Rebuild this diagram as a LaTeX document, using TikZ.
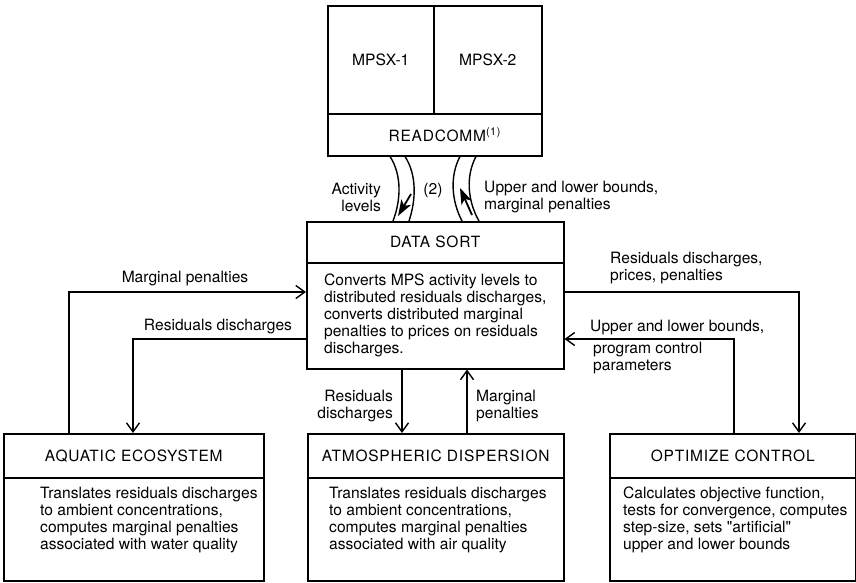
\documentclass[tikz,border=0pt]{standalone}
\usepackage{fontspec}
\setmainfont{TeX Gyre Heros}
\usetikzlibrary{arrows.meta,calc}
\begin{document}
\begin{tikzpicture}[x=1pt,y=-1pt,
  every node/.style={font=\fontsize{15.6}{17}\selectfont},
  box/.style={draw, line width=1.5pt, inner sep=0pt, anchor=north west},
  ttl/.style={font=\fontsize{15.5}{16}\selectfont\addfontfeature{LetterSpace=5}},
  txt/.style={anchor=north west, align=left, inner sep=0pt},
  lbl/.style={inner sep=0pt},
  arr/.style={line width=1.4pt, -{Straight Barb[length=9pt,width=13pt,line width=1.4pt]}},
  band/.style={line width=1.4pt},
  bandarrow/.style={line width=1.8pt, -{Stealth[length=16pt,width=11pt,inset=4pt]}}
]
\useasboundingbox (0,0) rectangle (856,582);

% top block
\node[box, minimum width=106pt, minimum height=108pt] (mpsx1) at (327,5) {MPSX-1};
\node[box, minimum width=108pt, minimum height=108pt] (mpsx2) at (433,5) {MPSX-2};
\node[box, ttl, minimum width=214pt, minimum height=42pt] (readcomm) at (327,113) {\hspace*{20pt}READCOMM\textsuperscript{(1)}};

% data sort
\node[box, ttl, minimum width=257pt, minimum height=41pt] (dstitle) at (306,221) {DATA SORT};
\node[box, minimum width=257pt, minimum height=106pt, align=left] (dsbody) at (306,262)
  {Converts MPS activity levels to\\distributed residuals discharges,\\converts distributed marginal\\penalties to prices on residuals\\discharges.};

% bottom boxes
\node[box, ttl, minimum width=260pt, minimum height=44pt] (aqtitle) at (3,433) {AQUATIC ECOSYSTEM};
\node[box, minimum width=260pt, minimum height=103pt] (aqbody) at (3,477) {};
\node[txt] (aqtext) at (40,487) {Translates residuals discharges\\to ambient concentrations,\\computes marginal penalties\\associated with water quality};

\node[box, ttl, minimum width=256pt, minimum height=44pt] (attitle) at (307,433) {ATMOSPHERIC DISPERSION};
\node[box, minimum width=256pt, minimum height=103pt] (atbody) at (307,477) {};
\node[txt] (attext) at (329,487) {Translates residuals discharges\\to ambient concentrations,\\computes marginal penalties\\associated with air quality};

\node[box, ttl, minimum width=246pt, minimum height=44pt] (optitle) at (609,433) {OPTIMIZE CONTROL};
\node[box, minimum width=246pt, minimum height=103pt] (opbody) at (609,477) {};
\node[txt] (optext) at (623,487) {Calculates objective function,\\tests for convergence, computes\\step-size, sets \textquotedbl artificial\textquotedbl\\upper and lower bounds};

% curved bands between READCOMM and DATA SORT
\draw[band] (readcomm.south -| 390,0) .. controls (402,175) and (401,200) .. (dstitle.north -| 393,0);
\draw[band] (readcomm.south -| 405,0) .. controls (417,175) and (416,200) .. (dstitle.north -| 409,0);
\draw[bandarrow] (411,194) -- (398,216);

\draw[band] (readcomm.south -| 460,0) .. controls (450,175) and (451,200) .. (dstitle.north -| 462,0);
\draw[band] (readcomm.south -| 476,0) .. controls (466,175) and (467,200) .. (dstitle.north -| 479,0);
\draw[bandarrow] (472,215) -- (460,188);

\node[lbl, align=right, anchor=east] (actlbl) at (381,197) {Activity\\levels};
\node[lbl] (twolbl) at (433,190) {(2)};
\node[lbl, align=left, anchor=west] (ublbl) at (484,197) {Upper and lower bounds,\\marginal penalties};

% left connectors
\draw[arr] (aqtitle.north -| 69,0) |- (dsbody.west |- 0,292);
\draw[arr] (dsbody.west |- 0,339) -| (aqtitle.north -| 133,0);
\node[lbl] (mplbl) at (185,279) {Marginal penalties};
\node[lbl] (rdlbl) at (218,327) {Residuals discharges};

% centre connectors
\draw[arr] (dsbody.south -| 402,0) -- (attitle.north -| 402,0);
\draw[arr] (attitle.north -| 467,0) -- (dsbody.south -| 467,0);
\node[lbl, align=right, anchor=east] (rdlbl2) at (393,406) {Residuals\\discharges};
\node[lbl, align=left, anchor=west] (mplbl2) at (476,406) {Marginal\\penalties};

% right connectors
\draw[arr] (dsbody.east |- 0,292) -| (optitle.north -| 799,0);
\draw[arr] (optitle.north -| 734,0) |- (dsbody.east |- 0,339);
\node[lbl, align=left, anchor=west] (rplbl) at (610,268) {Residuals discharges,\\prices, penalties};
\node[lbl, anchor=west] (ublbl2) at (590,328) {Upper and lower bounds,};
\node[lbl, align=left, anchor=west] (pclbl) at (593,358) {program control\\parameters};
\end{tikzpicture}
\end{document}
